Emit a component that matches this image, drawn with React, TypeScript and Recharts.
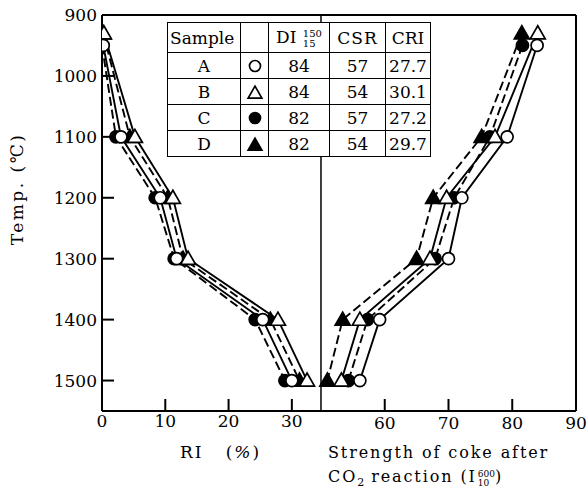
import React from 'react';
import { ComposedChart, Line, XAxis, YAxis, ReferenceLine } from 'recharts';

// temperatures of the measuring points (triangles sit a little higher at the start)
const circleTemps = [950, 1100, 1200, 1300, 1400, 1500];
const triangleTemps = [930, 1100, 1200, 1300, 1400, 1500];

// RI (%)
const riA = [0.2, 3.0, 9.2, 11.8, 25.4, 30.0];
const riB = [0.3, 5.2, 11.2, 13.6, 27.8, 32.4];
const riC = [0.0, 2.2, 8.4, 11.4, 24.2, 28.9];
const riD = [0.2, 4.4, 10.4, 12.8, 26.6, 31.2];

// strength of coke after CO2 reaction
const strA = [83.9, 79.2, 72.1, 70.0, 59.2, 56.1];
const strB = [84.0, 77.3, 69.7, 67.1, 56.1, 53.2];
const strC = [81.6, 76.5, 70.9, 67.9, 57.3, 54.3];
const strD = [81.5, 75.2, 67.6, 65.0, 53.4, 51.0];

const tempTicks = [900, 1000, 1100, 1200, 1300, 1400, 1500];
const riTicks = [0, 10, 20, 30];
const strTicks = [60, 70, 80, 90];

// table
const samples = ['A', 'B', 'C', 'D'];
const sampleMarks = ['oc', 'ot', 'fc', 'ft'];
const diValues = [84, 84, 82, 82];
const csrValues = [57, 54, 57, 54];
const criValues = ['27.7', '30.1', '27.2', '29.7'];

const FONT = '"DejaVu Serif", "Liberation Serif", serif';
const TICK_FONT = { fontFamily: FONT, fontSize: 17, fill: '#000' };

const rows = (xs: number[], temps: number[]) => xs.map((x, i) => ({ x, temp: temps[i] }));

const MarkerShape = ({ cx, cy, kind, size = 6 }: any) => {
  if (cx == null || cy == null) return null;
  const filled = kind === 'fc' || kind === 'ft';
  const fill = filled ? '#000' : '#fff';
  if (kind === 'oc' || kind === 'fc') {
    return <circle cx={cx} cy={cy} r={size} fill={fill} stroke="#000" strokeWidth={1.7} />;
  }
  const s = size * 1.25;
  return (
    <polygon
      points={`${cx},${cy - s} ${cx + s},${cy + s * 0.75} ${cx - s},${cy + s * 0.75}`}
      fill={fill}
      stroke="#000"
      strokeWidth={1.7}
    />
  );
};

const dotOf = (kind: string) => (p: any) => (
  <g key={`${kind}-${p.index}`}>
    <MarkerShape cx={p.cx} cy={p.cy} kind={kind} />
  </g>
);

// str axis sits one axis-height lower, so draw its ticks shifted back up
const strTick = (p: any) => (
  <g key={`st-${p.index}`}>
    <line x1={p.x} x2={p.x} y1={p.y - 30} y2={p.y - 42} stroke="#000" strokeWidth={2} />
    <text x={p.x} y={p.y - 30 + 18} textAnchor="middle" {...TICK_FONT}>
      {p.payload.value}
    </text>
  </g>
);

const cell: React.CSSProperties = {
  border: '1.5px solid #000',
  padding: 0,
  textAlign: 'center',
  height: 25,
  fontFamily: FONT,
  fontSize: 17,
  lineHeight: '20px',
};

const Stack = ({ sup, sub, size }: any) => (
  <span
    style={{
      display: 'inline-block',
      verticalAlign: -4,
      lineHeight: `${size}px`,
      fontSize: size,
      textAlign: 'left',
      marginLeft: 1,
      letterSpacing: 0,
    }}
  >
    {sup}
    <br />
    {sub}
  </span>
);

export default function App() {
  return (
    <div style={{ position: 'absolute', left: 0, top: 0, width: 587, height: 488, background: '#fff', fontFamily: FONT }}>
      <ComposedChart width={587} height={488} margin={{ top: 15, right: 11, bottom: 17, left: 0 }}>
        <YAxis
          type="number"
          domain={[900, 1550]}
          reversed
          allowDataOverflow
          ticks={tempTicks}
          width={102}
          tickSize={-12}
          tickMargin={17}
          tickLine={{ stroke: '#000', strokeWidth: 2 }}
          tick={TICK_FONT}
          axisLine={{ stroke: '#000', strokeWidth: 2 }}
        />
        <XAxis
          xAxisId="ri"
          type="number"
          dataKey="x"
          domain={[0, 74.9]}
          allowDataOverflow
          ticks={riTicks}
          height={30}
          tickSize={-12}
          tickMargin={16}
          tickLine={{ stroke: '#000', strokeWidth: 2 }}
          tick={TICK_FONT}
          axisLine={{ stroke: '#000', strokeWidth: 2 }}
        />
        <XAxis
          xAxisId="str"
          type="number"
          dataKey="x"
          domain={[15.65, 90]}
          allowDataOverflow
          ticks={strTicks}
          height={30}
          tickSize={0}
          tickMargin={0}
          tickLine={false}
          tick={strTick}
          axisLine={false}
        />
        <ReferenceLine y={900} xAxisId="ri" stroke="#000" strokeWidth={2} />
        <ReferenceLine y={1550} xAxisId="ri" stroke="#000" strokeWidth={2} />
        <ReferenceLine x={90} xAxisId="str" stroke="#000" strokeWidth={2} />
        <ReferenceLine x={50} xAxisId="str" stroke="#000" strokeWidth={1.5} />

        <Line xAxisId="ri" data={rows(riC, circleTemps)} dataKey="temp" stroke="#000" strokeWidth={1.9} strokeDasharray="9 4" dot={dotOf('fc')} isAnimationActive={false} />
        <Line xAxisId="ri" data={rows(riD, triangleTemps)} dataKey="temp" stroke="#000" strokeWidth={1.9} strokeDasharray="9 4" dot={dotOf('ft')} isAnimationActive={false} />
        <Line xAxisId="ri" data={rows(riA, circleTemps)} dataKey="temp" stroke="#000" strokeWidth={1.9} dot={dotOf('oc')} isAnimationActive={false} />
        <Line xAxisId="ri" data={rows(riB, triangleTemps)} dataKey="temp" stroke="#000" strokeWidth={1.9} dot={dotOf('ot')} isAnimationActive={false} />

        <Line xAxisId="str" data={rows(strC, circleTemps)} dataKey="temp" stroke="#000" strokeWidth={1.9} strokeDasharray="9 4" dot={dotOf('fc')} isAnimationActive={false} />
        <Line xAxisId="str" data={rows(strD, triangleTemps)} dataKey="temp" stroke="#000" strokeWidth={1.9} strokeDasharray="9 4" dot={dotOf('ft')} isAnimationActive={false} />
        <Line xAxisId="str" data={rows(strA, circleTemps)} dataKey="temp" stroke="#000" strokeWidth={1.9} dot={dotOf('oc')} isAnimationActive={false} />
        <Line xAxisId="str" data={rows(strB, triangleTemps)} dataKey="temp" stroke="#000" strokeWidth={1.9} dot={dotOf('ot')} isAnimationActive={false} />
      </ComposedChart>

      {/* sample table */}
      <table
        style={{
          position: 'absolute',
          left: 167,
          top: 22,
          borderCollapse: 'collapse',
          background: '#fff',
          color: '#000',
        }}
      >
        <tbody>
          <tr>
            <td style={{ ...cell, width: 70, height: 29, textAlign: 'left', paddingLeft: 2 }}>Sample</td>
            <td style={{ ...cell, width: 27, height: 29 }}></td>
            <td style={{ ...cell, width: 60, height: 29 }}>
              DI <Stack sup="150" sub="15" size={10} />
            </td>
            <td style={{ ...cell, width: 55, height: 29, letterSpacing: 1 }}>CSR</td>
            <td style={{ ...cell, width: 44, height: 29 }}>CRI</td>
          </tr>
          {samples.map((s, i) => (
            <tr key={s}>
              <td style={cell}>{s}</td>
              <td style={cell}>
                <svg width={18} height={16} style={{ display: 'block', margin: '0 auto' }}>
                  <MarkerShape cx={9} cy={sampleMarks[i] === 'ot' || sampleMarks[i] === 'ft' ? 9 : 8} kind={sampleMarks[i]} size={5.5} />
                </svg>
              </td>
              <td style={cell}>{diValues[i]}</td>
              <td style={cell}>{csrValues[i]}</td>
              <td style={cell}>{criValues[i]}</td>
            </tr>
          ))}
        </tbody>
      </table>

      {/* axis titles */}
      <div
        style={{
          position: 'absolute',
          left: 17,
          top: 189,
          transform: 'translate(-50%, -50%) rotate(-90deg)',
          whiteSpace: 'nowrap',
          fontSize: 17,
          letterSpacing: 2.5,
        }}
      >
        Temp. (℃)
      </div>
      <div style={{ position: 'absolute', left: 180, top: 441, fontSize: 17, letterSpacing: 2, whiteSpace: 'nowrap', lineHeight: '22px' }}>
        RI&nbsp;&nbsp;&nbsp;(<i>%</i>)
      </div>
      <div style={{ position: 'absolute', left: 328, top: 441, fontSize: 16, letterSpacing: 1.9, whiteSpace: 'nowrap', lineHeight: '24px' }}>
        <div style={{ height: 24 }}>Strength of coke after</div>
        <div style={{ height: 24 }}>
          CO<span style={{ fontSize: 11, position: 'relative', top: 4, letterSpacing: 0 }}>2</span> reaction (I
          <Stack sup="600" sub="10" size={9} />)
        </div>
      </div>
    </div>
  );
}
